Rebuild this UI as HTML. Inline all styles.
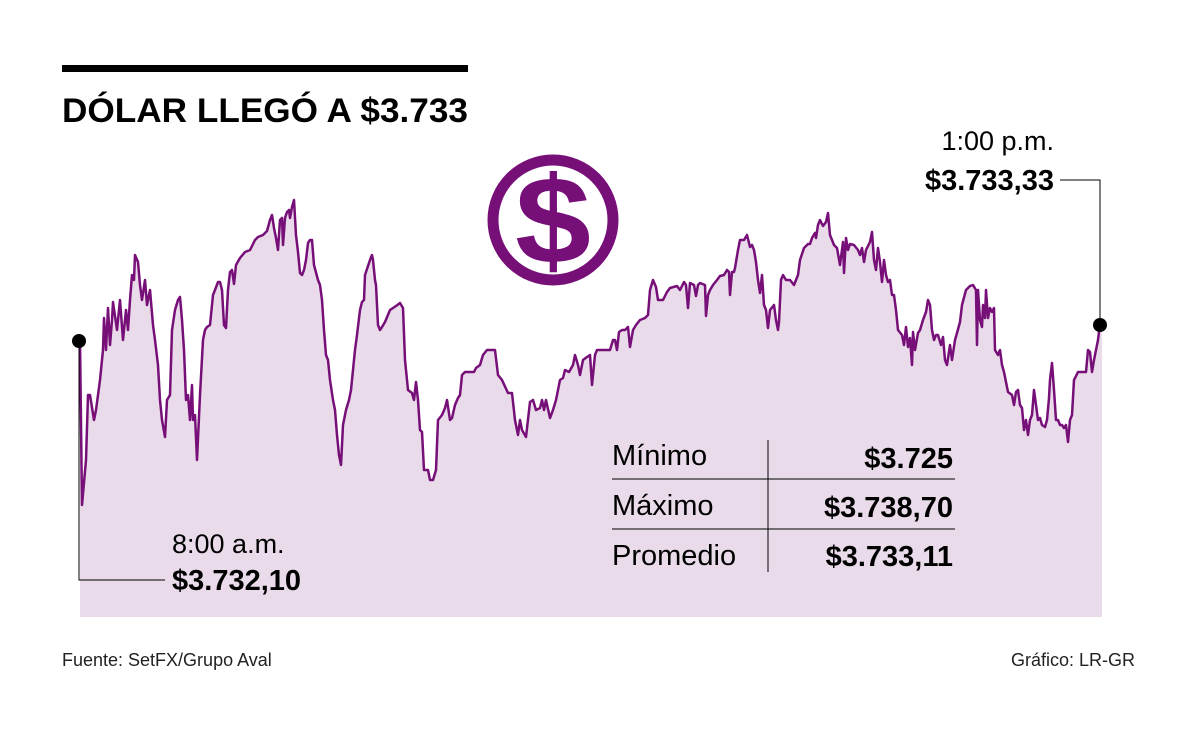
<!DOCTYPE html>
<html><head><meta charset="utf-8"><style>
body{margin:0;width:1200px;height:729px;background:#fff;overflow:hidden;font-family:"Liberation Sans",sans-serif}
svg text{font-family:"Liberation Sans",sans-serif}
</style></head><body>
<svg width="1200" height="729" viewBox="0 0 1200 729">
<rect x="62" y="65" width="406" height="7" fill="#000"/>
<text x="62" y="122" font-size="34" font-weight="bold" textLength="406" lengthAdjust="spacingAndGlyphs">DÓLAR LLEGÓ A $3.733</text>
<polygon fill="#e9dbea" points="80,617 80,340 82,505 86,460 88,395 90,395 94,420 96,410 100,380 103,350 104,318 106,350 108,308 110,345 112,320 113,302 117,330 120,300 123,340 126,310 128,330 130,300 132,275 134,280 135,255 138,262 140,285 142,300 145,280 147,305 150,290 153,325 155,340 158,365 160,400 162,420 165,437 167,400 170,395 172,330 175,310 178,300 180,297 182,320 184,350 186,400 188,395 190,420 192,385 193,420 195,415 197,460 200,395 203,340 205,330 207,327 210,325 213,295 215,290 218,282 220,282 222,290 224,325 226,328 228,290 230,272 232,270 234,284 236,265 240,258 245,252 250,250 253,244 255,240 258,237 263,235 267,231 270,220 272,215 274,228 276,238 278,250 280,220 282,218 283,245 285,218 287,212 289,210 290,218 292,207 294,200 296,235 298,252 300,273 302,275 304,270 306,260 308,243 310,240 312,240 314,265 318,280 320,285 322,300 324,330 326,355 328,360 330,380 333,400 335,410 337,435 339,455 341,465 343,425 346,410 349,400 351,390 355,350 357,335 360,310 362,302 364,300 365,275 370,260 372,255 373,260 375,280 376,285 378,325 380,330 382,327 385,322 390,310 396,306 400,303 403,308 405,360 408,390 412,393 414,400 416,382 418,400 420,430 422,432 424,470 428,470 430,480 433,480 436,470 438,420 442,415 445,408 447,400 450,420 452,418 455,405 458,398 460,395 462,375 465,372 474,372 476,368 480,365 483,355 487,350 495,350 498,375 502,380 508,393 512,393 515,420 518,435 520,420 522,430 526,437 530,402 533,400 536,410 540,408 542,400 544,410 546,400 550,418 553,410 556,400 560,380 563,378 565,370 569,372 573,365 575,355 578,365 580,375 583,360 587,357 590,355 592,385 595,355 597,350 600,350 610,350 613,340 615,340 617,350 619,332 622,330 625,330 628,327 630,347 633,330 636,325 640,320 645,318 648,315 650,290 653,280 656,287 658,300 660,300 663,300 667,292 670,288 677,286 680,290 684,282 686,285 688,308 690,283 694,285 696,296 698,285 700,283 705,285 706,316 708,295 710,290 713,285 717,280 720,276 724,275 727,270 729,272 730,295 732,272 734,272 735,268 738,250 740,240 744,240 747,235 750,247 752,245 754,250 756,262 758,280 760,293 762,275 764,305 766,310 768,328 770,310 774,305 776,320 778,330 779,322 781,280 783,275 786,280 790,280 794,285 796,280 798,275 800,260 804,248 808,244 810,244 812,238 815,233 816,238 818,225 820,220 823,226 826,222 828,213 830,235 832,240 834,245 837,248 840,265 843,242 844,273 846,238 848,250 850,244 854,245 858,250 860,255 862,248 864,262 866,250 870,242 872,232 874,260 876,270 878,248 880,262 882,282 884,260 886,275 888,282 890,280 892,295 894,295 896,310 898,330 902,335 904,345 906,327 908,347 910,338 912,365 913,332 915,350 918,333 920,330 923,320 926,312 928,300 930,305 932,330 934,340 936,335 938,335 941,345 943,337 945,360 947,365 950,345 952,360 955,340 957,333 960,322 962,305 966,290 970,286 973,285 976,290 977,345 978,290 980,320 982,327 983,305 985,318 986,290 988,318 990,308 992,312 994,308 995,350 998,355 1000,350 1002,365 1004,372 1006,382 1008,392 1012,395 1014,405 1016,392 1018,390 1020,405 1022,408 1024,430 1026,420 1028,435 1030,420 1032,415 1034,390 1036,405 1038,420 1040,418 1042,425 1045,427 1047,420 1049,398 1050,380 1052,363 1054,390 1056,420 1058,420 1060,425 1062,425 1064,428 1066,425 1068,442 1070,420 1072,415 1074,380 1078,372 1086,372 1088,350 1090,352 1092,372 1094,360 1096,350 1098,340 1100,324 1102,324 1102,617"/>
<polyline fill="none" stroke="#770f78" stroke-width="2.5" stroke-linejoin="round" points="80,340 82,505 86,460 88,395 90,395 94,420 96,410 100,380 103,350 104,318 106,350 108,308 110,345 112,320 113,302 117,330 120,300 123,340 126,310 128,330 130,300 132,275 134,280 135,255 138,262 140,285 142,300 145,280 147,305 150,290 153,325 155,340 158,365 160,400 162,420 165,437 167,400 170,395 172,330 175,310 178,300 180,297 182,320 184,350 186,400 188,395 190,420 192,385 193,420 195,415 197,460 200,395 203,340 205,330 207,327 210,325 213,295 215,290 218,282 220,282 222,290 224,325 226,328 228,290 230,272 232,270 234,284 236,265 240,258 245,252 250,250 253,244 255,240 258,237 263,235 267,231 270,220 272,215 274,228 276,238 278,250 280,220 282,218 283,245 285,218 287,212 289,210 290,218 292,207 294,200 296,235 298,252 300,273 302,275 304,270 306,260 308,243 310,240 312,240 314,265 318,280 320,285 322,300 324,330 326,355 328,360 330,380 333,400 335,410 337,435 339,455 341,465 343,425 346,410 349,400 351,390 355,350 357,335 360,310 362,302 364,300 365,275 370,260 372,255 373,260 375,280 376,285 378,325 380,330 382,327 385,322 390,310 396,306 400,303 403,308 405,360 408,390 412,393 414,400 416,382 418,400 420,430 422,432 424,470 428,470 430,480 433,480 436,470 438,420 442,415 445,408 447,400 450,420 452,418 455,405 458,398 460,395 462,375 465,372 474,372 476,368 480,365 483,355 487,350 495,350 498,375 502,380 508,393 512,393 515,420 518,435 520,420 522,430 526,437 530,402 533,400 536,410 540,408 542,400 544,410 546,400 550,418 553,410 556,400 560,380 563,378 565,370 569,372 573,365 575,355 578,365 580,375 583,360 587,357 590,355 592,385 595,355 597,350 600,350 610,350 613,340 615,340 617,350 619,332 622,330 625,330 628,327 630,347 633,330 636,325 640,320 645,318 648,315 650,290 653,280 656,287 658,300 660,300 663,300 667,292 670,288 677,286 680,290 684,282 686,285 688,308 690,283 694,285 696,296 698,285 700,283 705,285 706,316 708,295 710,290 713,285 717,280 720,276 724,275 727,270 729,272 730,295 732,272 734,272 735,268 738,250 740,240 744,240 747,235 750,247 752,245 754,250 756,262 758,280 760,293 762,275 764,305 766,310 768,328 770,310 774,305 776,320 778,330 779,322 781,280 783,275 786,280 790,280 794,285 796,280 798,275 800,260 804,248 808,244 810,244 812,238 815,233 816,238 818,225 820,220 823,226 826,222 828,213 830,235 832,240 834,245 837,248 840,265 843,242 844,273 846,238 848,250 850,244 854,245 858,250 860,255 862,248 864,262 866,250 870,242 872,232 874,260 876,270 878,248 880,262 882,282 884,260 886,275 888,282 890,280 892,295 894,295 896,310 898,330 902,335 904,345 906,327 908,347 910,338 912,365 913,332 915,350 918,333 920,330 923,320 926,312 928,300 930,305 932,330 934,340 936,335 938,335 941,345 943,337 945,360 947,365 950,345 952,360 955,340 957,333 960,322 962,305 966,290 970,286 973,285 976,290 977,345 978,290 980,320 982,327 983,305 985,318 986,290 988,318 990,308 992,312 994,308 995,350 998,355 1000,350 1002,365 1004,372 1006,382 1008,392 1012,395 1014,405 1016,392 1018,390 1020,405 1022,408 1024,430 1026,420 1028,435 1030,420 1032,415 1034,390 1036,405 1038,420 1040,418 1042,425 1045,427 1047,420 1049,398 1050,380 1052,363 1054,390 1056,420 1058,420 1060,425 1062,425 1064,428 1066,425 1068,442 1070,420 1072,415 1074,380 1078,372 1086,372 1088,350 1090,352 1092,372 1094,360 1096,350 1098,340 1100,324"/>
<circle cx="553" cy="220" r="60" fill="none" stroke="#770f78" stroke-width="11"/>
<text x="553" y="263" font-size="124" font-weight="bold" fill="#770f78" text-anchor="middle" transform="translate(553 0) scale(1.1 1) translate(-553 0)">$</text>
<polyline points="79,341 79,580 165,580" fill="none" stroke="#000" stroke-width="1"/>
<circle cx="79" cy="341" r="7" fill="#000"/>
<polyline points="1060,180 1100,180 1100,324" fill="none" stroke="#000" stroke-width="1"/>
<circle cx="1100" cy="325" r="7" fill="#000"/>
<text x="172" y="553" font-size="27">8:00 a.m.</text>
<text x="172" y="590" font-size="29" font-weight="bold">$3.732,10</text>
<text x="1054" y="150" font-size="27" text-anchor="end">1:00 p.m.</text>
<text x="1054" y="190" font-size="29" font-weight="bold" text-anchor="end">$3.733,33</text>
<line x1="612" y1="479" x2="955" y2="479" stroke="#000" stroke-width="1"/>
<line x1="612" y1="529" x2="955" y2="529" stroke="#000" stroke-width="1"/>
<line x1="768" y1="440" x2="768" y2="572" stroke="#000" stroke-width="1"/>
<text x="612" y="465" font-size="29">Mínimo</text>
<text x="612" y="515" font-size="29">Máximo</text>
<text x="612" y="565" font-size="29">Promedio</text>
<text x="953" y="468" font-size="29" font-weight="bold" text-anchor="end">$3.725</text>
<text x="953" y="517" font-size="29" font-weight="bold" text-anchor="end">$3.738,70</text>
<text x="953" y="566" font-size="29" font-weight="bold" text-anchor="end">$3.733,11</text>
<text x="62" y="666" font-size="18" fill="#222">Fuente: SetFX/Grupo Aval</text>
<text x="1135" y="666" font-size="18" fill="#222" text-anchor="end">Gráfico: LR-GR</text>
</svg>
</body></html>
